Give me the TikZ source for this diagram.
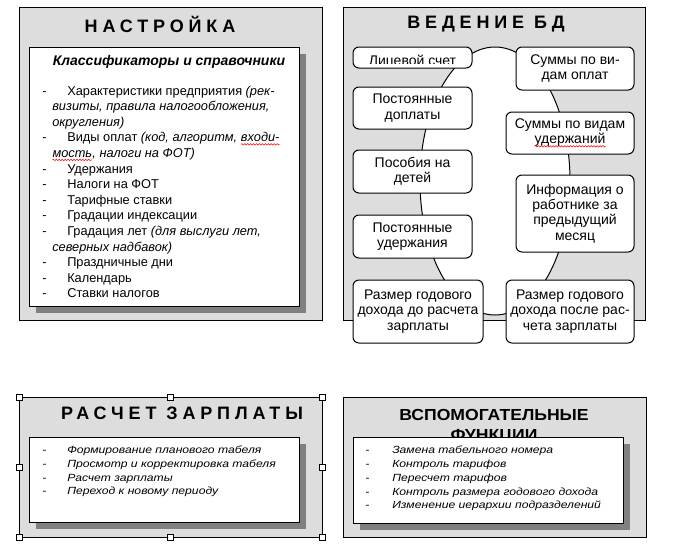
\documentclass[tikz,border=0pt]{standalone}
\usepackage{fontspec}
\setmainfont{Liberation Sans}
\usetikzlibrary{shapes.geometric,decorations.pathmorphing}
\definecolor{panelgray}{RGB}{221,221,221}
\definecolor{shadowgray}{RGB}{128,128,128}
\newcommand\rwave[1]{\tikz[baseline=(w.base)]{\node[draw=none,fill=none,shape=rectangle,minimum width=0pt,minimum height=0pt,inner sep=0pt,outer sep=0pt,anchor=base] (w) at (0,0) {#1};\draw[sharp corners,draw=red,line width=0.4pt,decorate,decoration={snake,amplitude=0.55pt,segment length=2.2pt}] ([yshift=-1.9pt]w.base west) -- ([yshift=-1.9pt]w.base east);}}
\newcommand\itemdash{\makebox[18.75pt][l]{-}}
\newcommand\itemdashb{\makebox[20.25pt][l]{-}}
\newcommand\titlefnt{\fontsize{13.5}{15}\selectfont\bfseries\addfontfeatures{LetterSpace=27}}
\newcommand\bodyfnt{\fontsize{9.6}{11}\selectfont}
\newcommand\boxfnt{\fontsize{10.5}{11.5}\selectfont}
\newcommand\smallfnt{\fontsize{7.8}{9}\selectfont\itshape\addfontfeatures{FakeStretch=1.17}}
\newcommand\subfnt{\fontsize{10.5}{12}\selectfont\bfseries\itshape}
\newcommand\hdfnt{\fontsize{12}{13}\selectfont\bfseries\addfontfeatures{FakeStretch=1.1}}
\begin{document}
\begin{tikzpicture}[x=0.75pt,y=-0.75pt,
  panel/.style={draw=black,fill=panelgray,line width=0.75pt},
  card/.style={draw=black,fill=white,line width=0.75pt},
  shade/.style={fill=shadowgray,draw=none},
  title/.style={inner sep=0pt,font=\titlefnt},
  rbox/.style={draw=black,fill=white,rounded corners=4.5pt,line width=0.75pt,align=center,inner sep=0pt,font=\boxfnt},
  lineA/.style={anchor=base west,inner sep=0pt,font=\bodyfnt},
  lineB/.style={anchor=base west,inner sep=0pt,font=\smallfnt},
  handle/.style={draw=black,fill=white,line width=0.6pt,minimum size=4.5pt,inner sep=0pt}
]
\useasboundingbox (0,0) rectangle (674,550);
\fill[white] (0,0) rectangle (674,550);

% ---------- Panel 1 ----------
\draw[panel] (19,7) rectangle (322,320);
\node[title] (t1) at (160,24) {НАСТРОЙКА};
\fill[shade] (36,54) rectangle (306,313);
\draw[card] (29,47) rectangle (299,306);
\node[anchor=base,inner sep=0pt,font=\subfnt] (sub) at (169,65) {Классификаторы и справочники};
\node[lineA] (a1) at (42,95) {\itemdash Характеристики предприятия \textit{(рек-}};
\node[lineA] (a2) at (52,110.6) {\textit{визиты, правила налогообложения,}};
\node[lineA] (a3) at (52,126.2) {\textit{округления)}};
\node[lineA] (a4) at (42,141.8) {\itemdash Виды оплат \textit{(код, алгоритм, \rwave{входи-}}};
\node[lineA] (a5) at (52,157.4) {\textit{\rwave{мость}, налоги на ФОТ)}};
\node[lineA] (a6) at (42,173) {\itemdash Удержания};
\node[lineA] (a7) at (42,188.6) {\itemdash Налоги на ФОТ};
\node[lineA] (a8) at (42,204.2) {\itemdash Тарифные ставки};
\node[lineA] (a9) at (42,219.8) {\itemdash Градации индексации};
\node[lineA] (a10) at (42,235.4) {\itemdash Градация лет \textit{(для выслуги лет,}};
\node[lineA] (a11) at (52,251) {\textit{северных надбавок)}};
\node[lineA] (a12) at (42,266.6) {\itemdash Праздничные дни};
\node[lineA] (a13) at (42,282.2) {\itemdash Календарь};
\node[lineA] (a14) at (42,297.8) {\itemdash Ставки налогов};

% ---------- Panel 2 ----------
\draw[panel] (343,7) rectangle (645,320);
\node[title] (t2) at (486,24) {ВЕДЕНИЕ БД};
\node[draw=black,fill=white,ellipse,minimum width=112.5pt,minimum height=201pt,inner sep=0pt,line width=0.75pt] (oval) at (495,181) {};
\node[rbox,minimum width=89.25pt,minimum height=15.75pt] (ls) at (412.5,57.5) {};
\begin{scope}
\clip (353,47) rectangle (472,63);
\node[anchor=base,inner sep=0pt,font=\boxfnt] (lstext) at (412.5,65) {Лицевой счет};
\end{scope}
\node[rbox,minimum width=89.25pt,minimum height=31.5pt] (pd) at (412.5,108) {Постоянные\\доплаты};
\node[rbox,minimum width=89.25pt,minimum height=32.25pt] (pos) at (412.5,171.5) {Пособия на\\детей};
\node[rbox,minimum width=89.25pt,minimum height=32.25pt] (pu) at (412.5,236.5) {Постоянные\\удержания};
\node[rbox,minimum width=97.5pt,minimum height=47.25pt] (rd) at (418,311.5) {Размер годового\\дохода до расчета\\зарплаты};
\node[rbox,minimum width=88.5pt,minimum height=32.25pt] (so) at (575,68.5) {Суммы по ви-\\дам оплат};
\node[rbox,minimum width=96pt,minimum height=31.5pt] (su) at (570,133) {Суммы по видам\\\rwave{удержаний}};
\node[rbox,minimum width=88.5pt,minimum height=57.75pt] (inf) at (575,213.5) {Информация о\\работнике за\\предыдущий\\месяц};
\node[rbox,minimum width=96pt,minimum height=47.25pt] (rp) at (570,311.5) {Размер годового\\дохода после рас-\\чета зарплаты};

% ---------- Panel 3 ----------
\draw[panel] (19,397) rectangle (322,537);
\node[title] (t3) at (182,413) {РАСЧЕТ ЗАРПЛАТЫ};
\fill[shade] (36,444) rectangle (306,529);
\draw[card] (29,437) rectangle (299,522);
\node[lineB] (b1) at (42,453.5) {\itemdash Формирование планового табеля};
\node[lineB] (b2) at (42,467.3) {\itemdash Просмотр и корректировка табеля};
\node[lineB] (b3) at (42,481) {\itemdash Расчет зарплаты};
\node[lineB] (b4) at (42,494.8) {\itemdash Переход к новому периоду};
\node[handle] (h1) at (19,397) {};
\node[handle] (h2) at (170,397) {};
\node[handle] (h3) at (322,397) {};
\node[handle] (h4) at (19,467) {};
\node[handle] (h5) at (322,467) {};
\node[handle] (h6) at (19,537) {};
\node[handle] (h7) at (170,537) {};
\node[handle] (h8) at (322,537) {};

% ---------- Panel 4 ----------
\draw[panel] (343,397) rectangle (646,537);
\node[anchor=base,inner sep=0pt,font=\hdfnt] (t4a) at (494,420) {ВСПОМОГАТЕЛЬНЫЕ};
\node[anchor=base,inner sep=0pt,font=\hdfnt] (t4b) at (494,440) {ФУНКЦИИ};
\fill[shade] (360,444) rectangle (630,530);
\draw[card] (353,437) rectangle (623,523);
\node[lineB] (c1) at (365,453.3) {\itemdashb Замена табельного номера};
\node[lineB] (c2) at (365,467.2) {\itemdashb Контроль тарифов};
\node[lineB] (c3) at (365,481.1) {\itemdashb Пересчет тарифов};
\node[lineB] (c4) at (365,495) {\itemdashb Контроль размера годового дохода};
\node[lineB] (c5) at (365,508.9) {\itemdashb Изменение иерархии подразделений};
\end{tikzpicture}
\end{document}
